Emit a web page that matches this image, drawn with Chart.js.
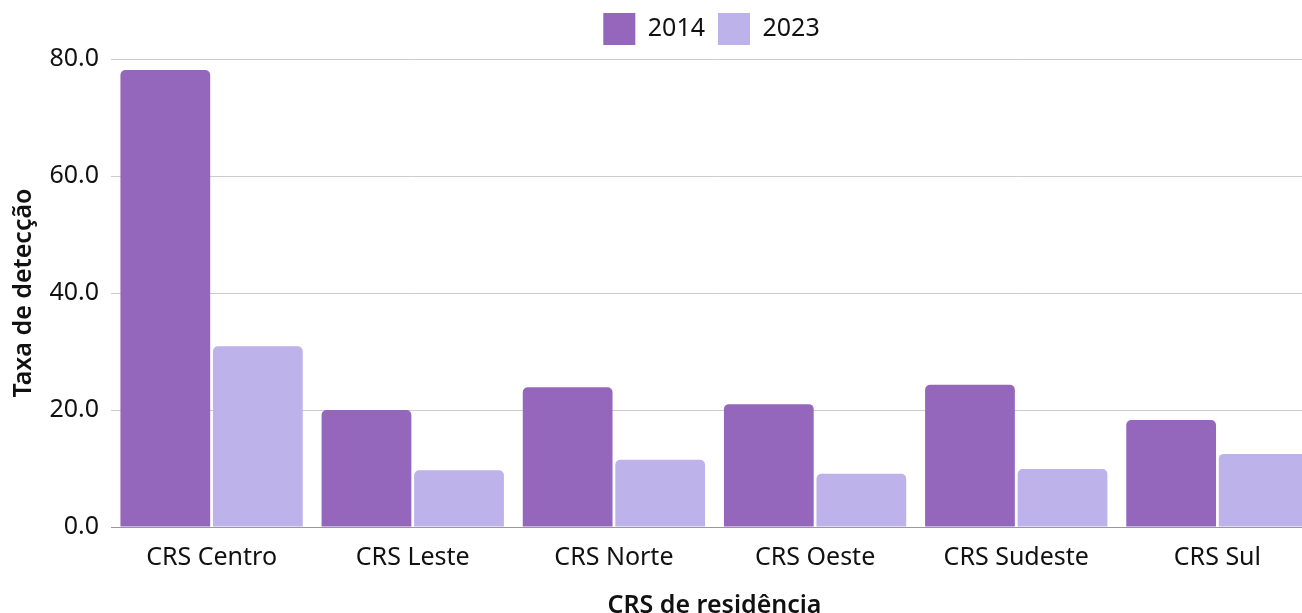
<!DOCTYPE html>
<html>
<head>
<meta charset="utf-8">
<script src="https://cdn.jsdelivr.net/npm/chart.js@4.4.1/dist/chart.umd.min.js"></script>
<style>
  html, body { margin: 0; padding: 0; background: #fff; overflow: hidden; }
  #wrap { position: relative; width: 1423px; height: 630px; }
</style>
</head>
<body>
<div id="wrap"><canvas id="chart"></canvas></div>
<script>
const categories = ['CRS Centro', 'CRS Leste', 'CRS Norte', 'CRS Oeste', 'CRS Sudeste', 'CRS Sul'];
const values2014 = [78.1, 20.0, 23.9, 21.0, 24.3, 18.3];
const values2023 = [30.9, 9.7, 11.5, 9.1, 9.9, 12.5];
const seriesNames = ['2014', '2023'];
const seriesColors = ['#9467BD', '#BDB3EA'];

const FONT = '"Noto Sans", sans-serif';

// blank axis used only to hold space (keeps legend centred like the original)
const spacer = (pos, size) => ({
    position: pos,
    display: true,
    grid: { display: false },
    border: { display: false },
    ticks: { display: false },
    afterFit: s => {
        if (pos === 'top') s.height = size; else s.width = size;
    }
});

const ctx = document.getElementById('chart').getContext('2d');
new Chart(ctx, {
    type: 'bar',
    data: {
        labels: categories,
        datasets: [
            { label: seriesNames[0], data: values2014, backgroundColor: seriesColors[0] },
            { label: seriesNames[1], data: values2023, backgroundColor: seriesColors[1] }
        ]
    },
    options: {
        responsive: true,
        maintainAspectRatio: false,
        animation: false,
        categoryPercentage: 0.92,
        barPercentage: 0.97,
        borderRadius: 5,
        borderSkipped: 'start',
        layout: { padding: 0 },
        scales: {
            x: {
                grid: { display: false },
                border: { color: '#999' },
                ticks: { color: '#111', font: { family: FONT, size: 25 }, padding: 8 },
                title: {
                    display: true, text: 'CRS de residência', color: '#111',
                    font: { family: FONT, size: 25, weight: 600 },
                    padding: { top: 10, bottom: 9 }
                },
                afterFit: s => { s.height = 103; }
            },
            xTop: Object.assign({ type: 'category' }, spacer('top', 4)),
            y: {
                min: 0, max: 80,
                ticks: {
                    stepSize: 20, color: '#111', padding: 12,
                    font: { family: FONT, size: 25 },
                    callback: v => v.toFixed(1)
                },
                grid: { color: '#ccc', drawTicks: false },
                border: { display: false },
                title: {
                    display: true, text: 'Taxa de detecção', color: '#111',
                    font: { family: FONT, size: 25, weight: 600 },
                    padding: { top: 9, bottom: 0 }
                },
                afterFit: s => { s.width = 111; }
            },
            yRight: Object.assign({ type: 'linear' }, spacer('right', 105))
        },
        plugins: {
            legend: {
                position: 'top',
                labels: {
                    boxWidth: 32, boxHeight: 32, padding: 13,
                    color: '#111', font: { family: FONT, size: 25 }
                }
            },
            tooltip: { enabled: false }
        }
    }
});
</script>
</body>
</html>
